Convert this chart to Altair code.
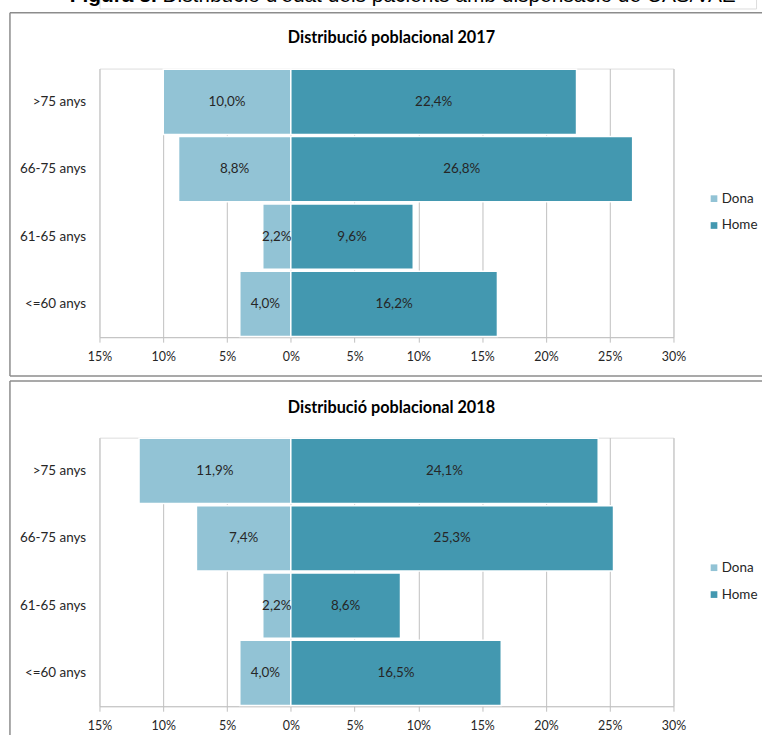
import altair as alt
import pandas as pd

# ---- data ----
ages = [">75 anys", "66-75 anys", "61-65 anys", "<=60 anys"]
sexes = ["Dona", "Home"]
dona_2017 = [10.0, 8.8, 2.2, 4.0]
home_2017 = [22.4, 26.8, 9.6, 16.2]
dona_2018 = [11.9, 7.4, 2.2, 4.0]
home_2018 = [24.1, 25.3, 8.6, 16.5]
x_ticks = [-15, -10, -5, 0, 5, 10, 15, 20, 25, 30]
fig_title_bold = "Figura 3."
fig_title_rest = "Distribució d'edat dels pacients amb dispensació de CAS/VAE"
panel_title = "Distribució poblacional"

COLORS = ["#92C3D5", "#4398B0"]
FONT = "Lato"
TXT = "#262626"
BORDER = "#8C8C8C"
GRID = "#BFBFBF"


def make_df(dona, home):
    rows = []
    for a, d, h in zip(ages, dona, home):
        rows.append({"age": a, "sex": "Dona", "val": -d, "mid": -d / 2,
                     "label": f"{d:.1f}".replace(".", ",") + "%"})
        rows.append({"age": a, "sex": "Home", "val": h, "mid": h / 2,
                     "label": f"{h:.1f}".replace(".", ",") + "%"})
    return pd.DataFrame(rows)


W = 577
H = 270


def panel(year, dona, home, top, bottom, title_y, draw_bottom):
    df = make_df(dona, home)
    base = alt.Chart(df)
    y = alt.Y("age:N", sort=ages, title=None,
              scale=alt.Scale(paddingInner=0.03, paddingOuter=0.01),
              axis=alt.Axis(domain=False, ticks=False, labelFont=FONT,
                            labelFontSize=13.5, labelColor=TXT, labelPadding=14))
    x = alt.X("val:Q", title=None,
              scale=alt.Scale(domain=[-15, 30], nice=False, zero=False),
              axis=alt.Axis(values=x_ticks,
                            labelExpr="format(abs(datum.value), 'd') + '%'",
                            grid=True, gridColor=GRID, gridWidth=1,
                            domainColor=GRID, tickColor=GRID, tickSize=5,
                            labelFont=FONT, labelFontSize=12.5, labelColor=TXT,
                            labelPadding=8, labelFlush=False))
    bars = base.mark_bar(stroke="white", strokeWidth=1.5).encode(
        x=x, x2=alt.datum(0), y=y,
        color=alt.Color("sex:N",
                        scale=alt.Scale(domain=sexes, range=COLORS),
                        legend=alt.Legend(title=None, orient="none",
                                          legendX=611, legendY=124,
                                          symbolType="square", symbolSize=45,
                                          symbolStrokeWidth=0,
                                          labelFont=FONT, labelFontSize=13.5,
                                          labelColor=TXT, rowPadding=12,
                                          labelOffset=1)))
    labels = base.mark_text(font=FONT, fontSize=13.5, color=TXT).encode(
        x="mid:Q", y=alt.Y("age:N", sort=ages), text="label:N")

    one = alt.Data(values=[{"t": f"{panel_title} {year}"}])
    ttl = alt.Chart(one).mark_text(font=FONT, fontSize=16.3, fontWeight="bold",
                                   color="black").encode(
        text="t:N", x=alt.value(W / 2 + 5), y=alt.value(title_y))
    rule_kw = dict(color=BORDER, strokeWidth=1.5)
    top_rule = alt.Chart(one).mark_rule(**rule_kw).encode(
        x=alt.value(-90), x2=alt.value(666), y=alt.value(top))
    left_rule = alt.Chart(one).mark_rule(**rule_kw).encode(
        x=alt.value(-90), y=alt.value(top), y2=alt.value(bottom))
    layers = [bars, labels, ttl, top_rule, left_rule]
    if draw_bottom:
        bot_rule = alt.Chart(one).mark_rule(**rule_kw).encode(
            x=alt.value(-90), x2=alt.value(666), y=alt.value(bottom))
        layers.append(bot_rule)
    return alt.layer(*layers).properties(width=W, height=H)


hdr_data = alt.Data(values=[{"a": fig_title_bold, "b": fig_title_rest}])
hdr_base = alt.Chart(hdr_data)
hdr_bold = hdr_base.mark_text(font="Liberation Sans", fontSize=21,
                              fontWeight="bold", align="right",
                              baseline="top", color="black").encode(
    text="a:N", x=alt.value(57.5), y=alt.value(0))
hdr_rest = hdr_base.mark_text(font="Liberation Sans", fontSize=21,
                              align="left", baseline="top",
                              color="black").encode(
    text="b:N", x=alt.value(63.3), y=alt.value(0))
header = alt.layer(hdr_bold, hdr_rest).properties(width=660, height=23.6)

p1 = panel(2017, dona_2017, home_2017, -56, 309, -31, True)
p2 = panel(2018, dona_2018, home_2018, -57, 300, -30, False)

chart = alt.vconcat(header, p1, p2, spacing=1).properties(
    padding={"left": 8, "top": -18, "right": 0, "bottom": 0}
).resolve_scale(color="independent").resolve_legend(
    color="independent"
).configure_view(strokeWidth=0).configure(background="white")

chart.save("out.html", embed_options={"renderer": "svg", "actions": False})
